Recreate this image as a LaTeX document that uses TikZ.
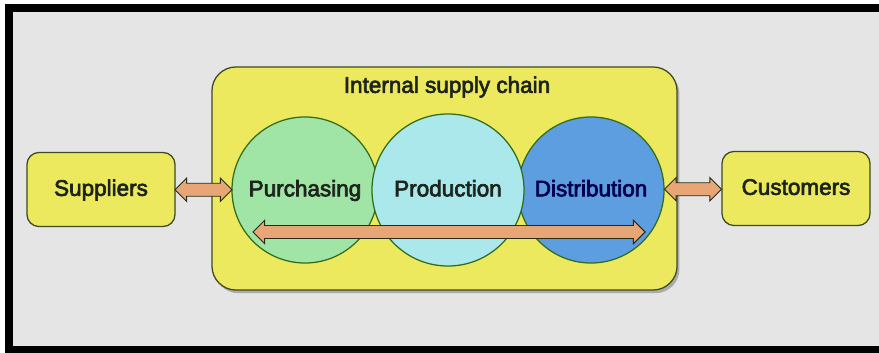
\documentclass[tikz,border=0pt]{standalone}
\usepackage{fontspec}
\setmainfont{Liberation Sans}
\newfontfamily\lblfont{Liberation Sans}[FakeBold=3]
\usepackage{tikz}
\usetikzlibrary{positioning,shapes.arrows,shadows}
\definecolor{bgray}{RGB}{229,229,229}
\definecolor{chainyel}{RGB}{236,233,95}
\definecolor{olive}{RGB}{62,72,34}
\definecolor{purgreen}{RGB}{160,228,166}
\definecolor{procyan}{RGB}{170,232,236}
\definecolor{disblue}{RGB}{92,158,224}
\definecolor{arrorange}{RGB}{232,166,118}
\definecolor{txtdark}{RGB}{28,36,28}

\begin{document}
\begin{tikzpicture}[x=0.025cm,y=-0.025cm,
  yelbox/.style={rectangle,rounded corners=0.3cm,draw=olive,line width=0.9pt,fill=chainyel,text=txtdark,minimum width=3.7cm,minimum height=1.85cm,text height=11.5pt,text depth=2.5pt,font=\lblfont},
  ring/.style={circle,draw=olive!80!green,line width=0.9pt,text=txtdark,minimum size=3.65cm,inner sep=0pt,text height=11.5pt,text depth=2.5pt,font=\lblfont},
  fatarrow/.style={double arrow,draw=olive!60!black,line width=0.7pt,fill=arrorange,double arrow head extend=0.13cm,inner xsep=0pt,inner ysep=0.15cm}]
\useasboundingbox (0,0) rectangle (879,353);
\fill[white] (0,0) rectangle (879,353);
\fill[black] (5,4) rectangle (879,353);
\fill[bgray] (13,12) rectangle (879,346);
\fontsize{16}{19}\selectfont
\node[yelbox,rounded corners=0.6cm,minimum width=11.625cm,minimum height=5.575cm,drop shadow={fill=black!55,shadow xshift=0.06cm,shadow yshift=-0.08cm}] (chain) at (444.5,178.5){};
\node[text=txtdark,inner sep=0pt,font=\lblfont] (chainlbl) at (447,87){Internal supply chain};
\node[ring,fill=purgreen] (pur) at (305,190){Purchasing};
\node[ring,fill=disblue,text=black!70!blue] (dis) at (591,190){Distribution};
\node[ring,fill=procyan,minimum size=3.8cm] (pro) at (448,190){Production};
\node[yelbox] (sup) at (101,189.5){Suppliers};
\node[yelbox] (cus) at (796,188.5){Customers};
\path (sup.east) -- (pur.west) node[midway,fatarrow,minimum height=1.425cm]{};
\path (dis.east) -- (cus.west) node[midway,fatarrow,minimum height=1.425cm]{};
\coordinate (la) at (253,232);
\coordinate (lb) at (645,232);
\path (la) -- (lb) node[midway,fatarrow,minimum height=9.8cm]{};
\end{tikzpicture}
\end{document}
